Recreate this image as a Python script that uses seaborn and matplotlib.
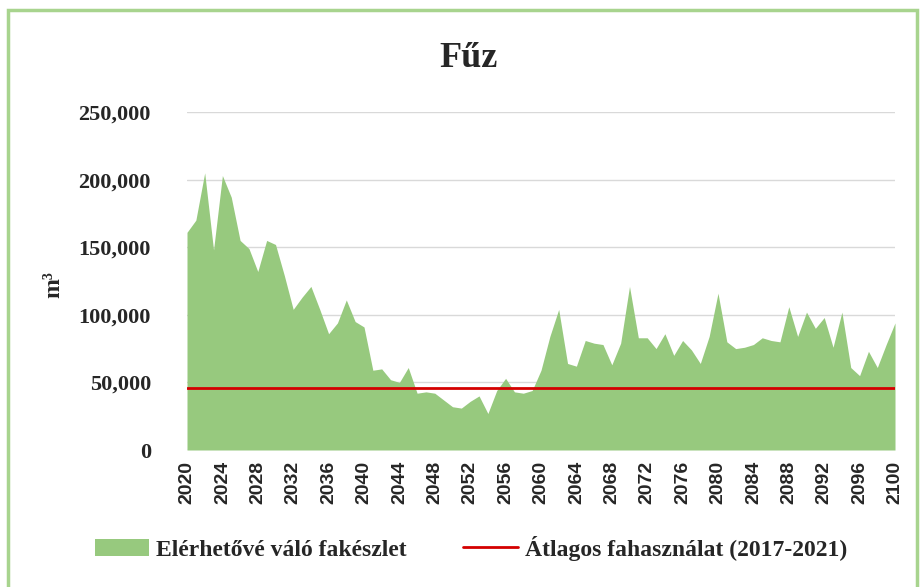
import numpy as np
import pandas as pd
import matplotlib.pyplot as plt
import seaborn as sns
from matplotlib.patches import Patch, Rectangle
from matplotlib.lines import Line2D

# évek és elérhetővé váló fakészlet (m3)
years = list(range(2020, 2101))
stock = [161000, 170000, 205000, 148000, 203000, 187000, 155000, 149000, 132000, 155000,
         152000, 129000, 104000, 113000, 121000, 104000, 86000, 94000, 111000, 95000,
         91000, 59000, 60000, 52000, 50000, 61000, 42000, 43000, 42000, 37000,
         32000, 31000, 36000, 40000, 27000, 44000, 53000, 43000, 42000, 44000,
         59000, 84000, 104000, 64000, 62000, 81000, 79000, 78000, 63000, 79000,
         121000, 83000, 83000, 75000, 86000, 70000, 81000, 74000, 64000, 84000,
         116000, 80000, 75000, 76000, 78000, 83000, 81000, 80000, 106000, 84000,
         102000, 90000, 98000, 76000, 102000, 61000, 55000, 73000, 61000, 78000,
         94000]
avg_use = 45500
tick_years = list(range(2020, 2101, 4))

df = pd.DataFrame({"ev": years, "keszlet": stock, "atlag": [avg_use] * len(years)})

sns.set_theme(style="white")

fig = plt.figure(figsize=(9.23, 5.87), dpi=100)
ax = fig.add_axes([187 / 923, 1 - 450 / 587, (895 - 187) / 923, (450 - 112) / 587])

green = "#97c97e"
red = "#d40000"

ax.fill_between(df["ev"], df["keszlet"], color=green, linewidth=0, zorder=2)
sns.lineplot(data=df, x="ev", y="atlag", color=red, linewidth=2, ax=ax, zorder=3)

ax.set_xlim(2020, 2100)
ax.set_ylim(0, 250000)
ax.set_yticks(range(0, 250001, 50000))
ax.set_yticklabels([f"{v:,}" for v in range(0, 250001, 50000)],
                   fontfamily="Liberation Serif", fontweight="bold", fontsize=16)
ax.set_xticks(tick_years)
ax.set_xticklabels([str(y) for y in tick_years], rotation=90,
                   fontfamily="Liberation Sans", fontweight="bold", fontsize=14)
ax.tick_params(axis="y", length=0, pad=26)
ax.tick_params(axis="x", length=0, pad=8)
ax.grid(axis="y", color="#d9d9d9", linewidth=1, zorder=0)
ax.set_axisbelow(True)
for s in ax.spines.values():
    s.set_visible(False)

ax.set_xlabel("")
ax.set_ylabel("m³", fontfamily="Liberation Serif", fontweight="bold", fontsize=17)
ax.yaxis.set_label_coords((64 - 187) / 708, 0.49)

fig.text(0.508, 0.9, "Fűz", ha="center", va="center",
         fontfamily="Liberation Serif", fontweight="bold", fontsize=26)

handles = [Patch(facecolor=green, edgecolor="none"),
           Line2D([0], [0], color=red, linewidth=2)]
labels = ["Elérhetővé váló fakészlet", "Átlagos fahasználat (2017-2021)"]
fig.legend(handles, labels, loc="center", bbox_to_anchor=(0.51, 0.066), ncol=2,
           frameon=False, handlelength=2.3, handletextpad=0.3, columnspacing=2.4,
           prop={"family": "Liberation Serif", "weight": "bold", "size": 17})

# világoszöld keret a diagram körül
fig.patches.append(Rectangle((0.009, -0.01), 0.985, 0.993, transform=fig.transFigure,
                             fill=False, edgecolor="#a8d48e", linewidth=2.5))

fig.savefig("out.png", dpi=100, facecolor="white")
